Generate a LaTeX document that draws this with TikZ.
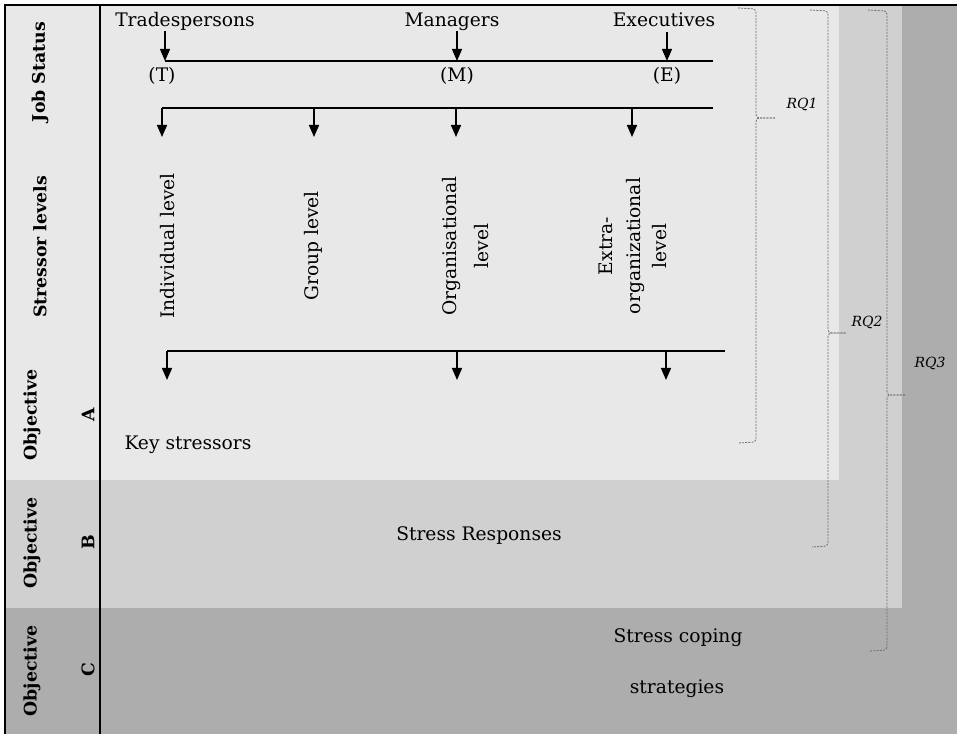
\documentclass[tikz,border=0pt]{standalone}
\usepackage{fontspec}
\setmainfont{DejaVu Serif}
\usetikzlibrary{arrows.meta}
\definecolor{lightbg}{HTML}{E8E8E8}
\definecolor{midbg}{HTML}{D0D0D0}
\definecolor{darkbg}{HTML}{ADADAD}
\definecolor{bracegray}{HTML}{6E6E6E}
\begin{document}
\begin{tikzpicture}[x=0.75pt,y=-0.75pt,
  txt/.style={font=\fontsize{14}{17}\selectfont, inner sep=0pt},
  vtxt/.style={txt, rotate=90},
  side/.style={font=\fontsize{13}{16}\selectfont\bfseries, inner sep=0pt, rotate=90},
  rq/.style={font=\fontsize{10.5}{12}\selectfont\itshape, inner sep=0pt},
  thinln/.style={line width=0.8pt},
  thickln/.style={line width=1.5pt},
  thinarr/.style={line width=0.9pt, -{Triangle[width=7.5pt,length=9pt]}},
  thickarr/.style={line width=1.1pt, -{Triangle[width=7.5pt,length=9pt]}},
  frame/.style={line width=1.5pt},
  brc/.style={draw=bracegray, line width=0.6pt, dash pattern=on 1.5pt off 0.9pt, rounded corners=2.5pt},
]
\useasboundingbox (0,0) rectangle (957,734);
% background layers
\fill[darkbg] (5,5) rectangle (957,734);
\fill[midbg] (5,5) rectangle (902,608);
\fill[lightbg] (5,5) rectangle (839,480);
% frame
\draw[frame] (957,5) -- (5,5) -- (5,734);
\draw[frame] (100,5) -- (100,734);

% side labels
\node[side] (jobstatus) at (40,72) {Job Status};
\node[side] (stressorlv) at (40,247) {Stressor levels};
\node[side] (objA) at (32,415) {Objective};
\node[side] (letA) at (88,415) {A};
\node[side] (objB) at (32,543) {Objective};
\node[side] (letB) at (88,542) {B};
\node[side] (objC) at (32,671) {Objective};
\node[side] (letC) at (88,670) {C};

% job status
\node[txt, anchor=base] (trades) at (185,27) {Tradespersons};
\node[txt, anchor=base] (mgr) at (452,27) {Managers};
\node[txt, anchor=base] (exec) at (664,27) {Executives};
\coordinate (jT) at (165,61);
\coordinate (jM) at (457,61);
\coordinate (jE) at (667,61);
\coordinate (jEnd) at (713,61);
\draw[thinln] (jT) -- (jEnd);
\draw[thinarr] (trades.south -| jT) -- (jT);
\draw[thinarr] (mgr.south -| jM) -- (jM);
\draw[thinarr] ([yshift=-3.5pt]exec.south -| jE) -- (jE);
\node[txt, anchor=base] (lT) at (162,82) {(T)};
\node[txt, anchor=base] (lM) at (457,82) {(M)};
\node[txt, anchor=base] (lE) at (667,82) {(E)};

% stressor levels
\coordinate (s1) at (162,108);
\coordinate (s2) at (314,108);
\coordinate (s3) at (456,108);
\coordinate (s4) at (632,108);
\coordinate (sEnd) at (713,108);
\coordinate (s1e) at (162,137);
\coordinate (s2e) at (314,137);
\coordinate (s3e) at (456,137);
\coordinate (s4e) at (632,137);
\draw[thickln] (s1) -- (sEnd);
\draw[thickarr] (s1) -- (s1e);
\draw[thickarr] (s2) -- (s2e);
\draw[thickarr] (s3) -- (s3e);
\draw[thickarr] (s4) -- (s4e);
\node[vtxt] (indiv) at (168,246) {Individual level};
\node[vtxt] (group) at (313,246) {Group level};
\node[vtxt] (org1) at (451,246) {Organisational};
\node[vtxt] (org2) at (482,246) {level};
\node[vtxt] (ext1) at (606,246) {Extra-};
\node[vtxt] (ext2) at (635,246) {organizational};
\node[vtxt] (ext3) at (660,246) {level};

% key stressors
\coordinate (k1) at (167,351);
\coordinate (k2) at (457,351);
\coordinate (k3) at (666,351);
\coordinate (kEnd) at (725,351);
\coordinate (k1e) at (167,380);
\coordinate (k2e) at (457,380);
\coordinate (k3e) at (666,380);
\draw[thickln] (k1) -- (kEnd);
\draw[thickarr] (k1) -- (k1e);
\draw[thickarr] (k2) -- (k2e);
\draw[thickarr] (k3) -- (k3e);
\node[txt, anchor=base] (keys) at (188,449) {Key stressors};

% objectives B and C
\node[txt, anchor=base] (resp) at (479,540) {Stress Responses};
\node[txt, anchor=base] (cop1) at (678,642) {Stress coping};
\node[txt, anchor=base] (cop2) at (677,693) {strategies};

% braces
\draw[brc] (738,8) -- (756,9) -- (756,118) -- (775,118);
\draw[brc] (775,118) -- (756,118) -- (756,442) -- (738,443);
\node[rq] (rq1) at (802,104) {RQ1};
\draw[brc] (810,10) -- (828,11) -- (828,333) -- (846,333);
\draw[brc] (846,333) -- (828,333) -- (828,546) -- (812,547);
\node[rq] (rq2) at (867,322) {RQ2};
\draw[brc] (868,10) -- (887,11) -- (887,395) -- (905,395);
\draw[brc] (905,395) -- (887,395) -- (887,650) -- (869,651);
\node[rq] (rq3) at (930,363) {RQ3};
\end{tikzpicture}
\end{document}
